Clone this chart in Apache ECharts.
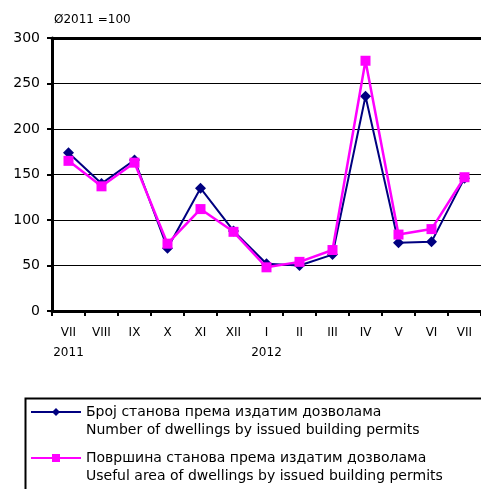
<!DOCTYPE html>
<html><head><meta charset="utf-8">
<script src="https://cdn.jsdelivr.net/npm/echarts@6/dist/echarts.min.js"></script>
<style>html,body{margin:0;padding:0;background:#fff}#c{width:481px;height:489px}</style>
</head><body><div id="c"></div>
<script>
var categories = ['VII\n2011','VIII','IX','X','XI','XII','I\n2012','II','III','IV','V','VI','VII'];
var dwellings = [174,140,166,69,135,88,52,50,62,236,75,76,146];
var usefulArea = [165,137,163,74,112,87,48,54,67,275,84,90,147];
var yTicks = {min:0, max:300, interval:50};
var nameA = 'Број станова према издатим дозволама\nNumber of dwellings by issued building permits';
var nameB = 'Површина станова према издатим дозволама\nUseful area of dwellings by issued building permits';
var font = '"DejaVu Sans", sans-serif';
var chart = echarts.init(document.getElementById('c'), null, {renderer:'canvas'});
var legendText = {color:'#000', fontFamily:font, fontSize:14, lineHeight:18};
function lf(name){ return '\n' + name; }
chart.setOption({
  animation:false,
  backgroundColor:'#fff',
  title:{text:'Ø2011 =100', left:54, top:14, padding:0, textStyle:{fontFamily:font, fontSize:12, fontWeight:'normal', color:'#000'}},
  grid:{left:52, top:38, width:434, height:273},
  legend:[
    {data:[nameA], orient:'vertical', left:30, top:385, padding:0, itemWidth:50, itemHeight:10, itemGap:0, textStyle:legendText, formatter:lf},
    {data:[nameB], orient:'vertical', left:30, top:431, padding:0, itemWidth:50, itemHeight:10, itemGap:0, textStyle:legendText, formatter:lf}
  ],
  graphic:[{type:'rect', left:23, top:396, shape:{width:480, height:110}, style:{fill:'none', stroke:'#000', lineWidth:2}, silent:true}],
  xAxis:[{
    type:'category', data:categories, boundaryGap:true,
    axisLine:{lineStyle:{color:'#000', width:3}},
    axisTick:{show:true, length:5, lineStyle:{color:'#000', width:2}},
    axisLabel:{color:'#000', fontFamily:font, fontSize:12, margin:12, lineHeight:20, interval:0, verticalAlign:'top'}
  },{
    type:'category', data:categories, position:'top', boundaryGap:true,
    axisLine:{lineStyle:{color:'#000', width:3}}, axisTick:{show:false}, axisLabel:{show:false}
  }],
  yAxis:{
    type:'value', min:yTicks.min, max:yTicks.max, interval:yTicks.interval,
    axisLine:{show:true, lineStyle:{color:'#000', width:3}},
    axisTick:{show:true, length:5, lineStyle:{color:'#000', width:2}},
    axisLabel:{color:'#000', fontFamily:font, fontSize:14, margin:12},
    splitLine:{lineStyle:{color:'#000', width:1}}
  },
  series:[
    {name:nameA, type:'line', data:dwellings, symbol:'diamond', symbolSize:11, color:'#000080',
     lineStyle:{color:'#000080', width:2}, itemStyle:{color:'#000080'}, z:2},
    {name:nameB, type:'line', data:usefulArea, symbol:'rect', symbolSize:10, color:'#FF00FF',
     lineStyle:{color:'#FF00FF', width:2.5}, itemStyle:{color:'#FF00FF'}, z:3}
  ]
});
</script></body></html>
